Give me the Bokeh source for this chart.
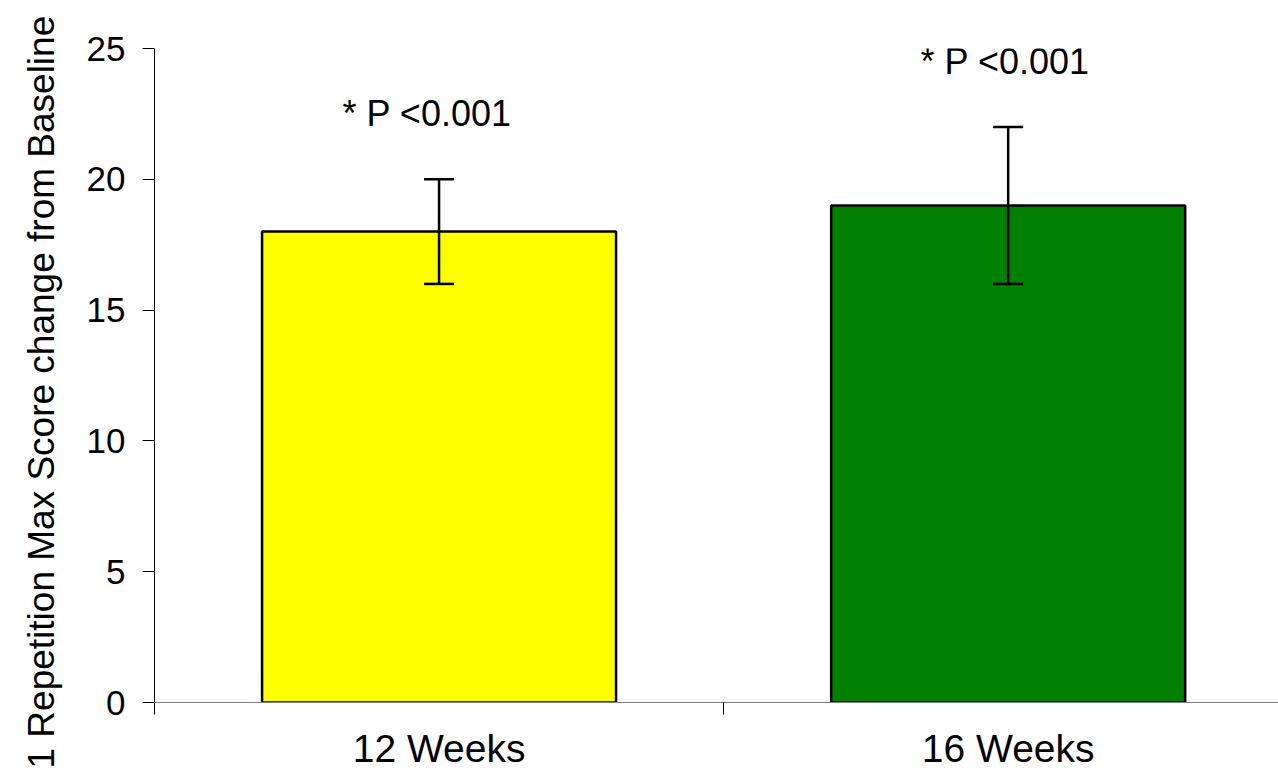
from bokeh.plotting import figure
from bokeh.models import (ColumnDataSource, FixedTicker, Whisker, TeeHead,
                          Range1d, Title)
from bokeh.core.properties import value
from bokeh.embed import file_html
from bokeh.resources import INLINE

# Data
categories = ["12 Weeks", "16 Weeks"]
mean_change = [18, 19]
err_lower = [16, 16]
err_upper = [20, 22]
bar_colors = ["#FFFF00", "#008000"]
sig_labels = ["* P <0.001", "* P <0.001"]
sig_y = [22.5, 24.5]
y_ticks = [0, 5, 10, 15, 20, 25]
y_title = "1 Repetition Max Score change from Baseline"

FONT = "Liberation Sans"

positions = [i + 0.5 for i in range(len(categories))]
src = ColumnDataSource(dict(x=positions, top=mean_change, lower=err_lower,
                            upper=err_upper, color=bar_colors))

p = figure(width=1278, height=772, output_backend="svg", toolbar_location=None,
           x_range=Range1d(0, 1.975), y_range=Range1d(0, 25),
           min_border_left=154, min_border_right=0, min_border_top=48,
           min_border_bottom=68)
p.outline_line_color = None
p.xgrid.visible = False
p.ygrid.visible = False

p.vbar(x="x", top="top", bottom=0, width=0.622, fill_color="color",
       line_color="black", line_width=2.5, source=src)

p.add_layout(Whisker(base="x", lower="lower", upper="upper", source=src,
                     level="overlay", line_color="black", line_width=2.5,
                     upper_head=TeeHead(size=30, line_color="black", line_width=2.5),
                     lower_head=TeeHead(size=30, line_color="black", line_width=2.5)))

# significance notes above the bars
p.text(x=positions, y=sig_y, text=sig_labels, x_offset=[-12, -3],
       text_font=value(FONT), text_font_size="36px", text_align="center",
       text_baseline="middle", text_color="black")

# y axis
yax = p.yaxis[0]
yax.ticker = FixedTicker(ticks=y_ticks, minor_ticks=[])
yax.axis_line_color = "black"
yax.axis_line_width = 1
yax.major_tick_line_color = "black"
yax.major_tick_in = 0
yax.major_tick_out = 12
yax.minor_tick_line_color = None
yax.major_label_text_font = FONT
yax.major_label_text_font_size = "35px"
yax.major_label_text_color = "black"
yax.major_label_standoff = 17

# y axis title as a side title, anchored at the bottom end
p.add_layout(Title(text=y_title, align="left", vertical_align="top",
                   offset=-66, standoff=40,
                   text_font=FONT, text_font_size="37px",
                   text_font_style="normal", text_color="black"), "left")

# x axis: ticks at the category boundaries, names centred under the bars
xax = p.xaxis[0]
xax.ticker = FixedTicker(ticks=positions, minor_ticks=[0, 1, 2])
xax.major_label_overrides = {pos: c for pos, c in zip(positions, categories)}
xax.axis_line_color = "#808080"
xax.axis_line_width = 1
xax.major_tick_line_color = None
xax.major_tick_out = 0
xax.major_tick_in = 0
xax.minor_tick_line_color = "black"
xax.minor_tick_in = 0
xax.minor_tick_out = 12
xax.major_label_text_font = FONT
xax.major_label_text_font_size = "39px"
xax.major_label_text_color = "black"
xax.major_label_standoff = 12

open("out.html", "w").write(file_html(p, INLINE))
